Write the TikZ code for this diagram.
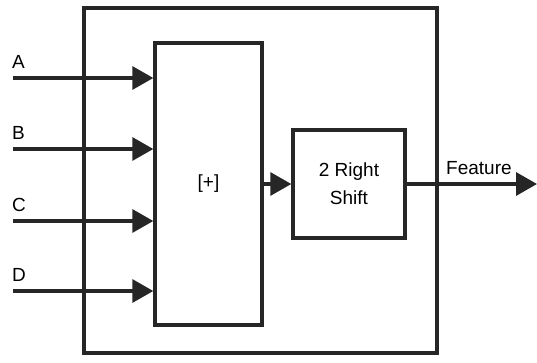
\documentclass[tikz,border=0pt]{standalone}
\usepackage{fontspec}
\setmainfont{Liberation Sans}
\usetikzlibrary{positioning, arrows.meta}

\begin{document}
\begin{tikzpicture}[x=1pt, y=-1pt,
  block/.style={draw=black!85, line width=3.4pt, inner sep=0pt, align=center,
                font=\fontsize{19}{28}\selectfont},
  arr/.style={-{Triangle[length=21pt, width=23pt]}, line width=3.4pt, draw=black!85, fill=black!85},
  lbl/.style={font=\fontsize{19}{23}\selectfont, inner sep=0pt, anchor=base west},
]
\useasboundingbox (0,0) rectangle (537,362);

% ---- Blocks ----
\node[block, minimum width=353pt, minimum height=345pt] (chip) at (260.5,180.5) {};
\node[block, minimum width=107pt, minimum height=282pt] (adder) at (208.5,184) {[+]};
\node[block, minimum width=112pt, minimum height=108pt] (shift) at (349,184) {2 Right\\Shift};

% ---- Inputs ----
\coordinate (inA) at (13,78);
\coordinate (inB) at (13,149);
\coordinate (inC) at (13,221);
\coordinate (inD) at (13,291);
\coordinate (out) at (537,184);

\node[lbl] (labA) at (12,68) {A};
\node[lbl] (labB) at (12,139) {B};
\node[lbl] (labC) at (12,211) {C};
\node[lbl] (labD) at (12,281) {D};
\node[lbl] (labF) at (446,174) {Feature};

% ---- Arrows ----
\draw[arr] (inA) -- (adder.west |- inA);
\draw[arr] (inB) -- (adder.west |- inB);
\draw[arr] (inC) -- (adder.west |- inC);
\draw[arr] (inD) -- (adder.west |- inD);

\draw[arr] (adder) -- (shift);
\draw[arr] (shift) -- (out);

\end{tikzpicture}
\end{document}
